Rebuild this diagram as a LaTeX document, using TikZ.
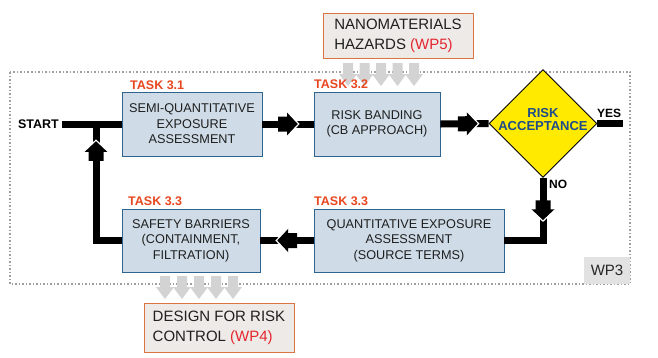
\documentclass[tikz,border=0pt]{standalone}
\usepackage{fontspec}
\setmainfont{Liberation Sans}
\usetikzlibrary{shapes.geometric,decorations.markings,calc}
\definecolor{boxfill}{HTML}{CFDCE8}
\definecolor{boxline}{HTML}{2E6490}
\definecolor{taskred}{HTML}{E8461E}
\definecolor{wpred}{HTML}{E3262E}
\definecolor{extfill}{HTML}{EEEAE7}
\definecolor{extline}{HTML}{DA7440}
\definecolor{diayellow}{HTML}{FFEA00}
\definecolor{dianavy}{HTML}{1D4B8C}
\definecolor{ghost}{HTML}{D3D3D3}
\definecolor{wpgray}{HTML}{E2E2E2}
\begin{document}
\begin{tikzpicture}[x=1pt,y=-1pt,
 taskbox/.style={draw=boxline, line width=0.9pt, fill=boxfill, align=center, inner sep=0pt, font=\fontsize{12.7}{15.5}\selectfont, text=black!88},
 extbox/.style={draw=extline, line width=0.9pt, fill=extfill, align=left, inner sep=0pt, font=\fontsize{15}{20}\selectfont, text=black!88},
 tasklabel/.style={anchor=base west, inner sep=0pt, text=taskred, font=\bfseries\fontsize{12.5}{14}\selectfont},
 flowlabel/.style={anchor=base west, inner sep=0pt, font=\bfseries\fontsize{12}{13}\selectfont},
 flow/.style={line width=7pt, black, line join=miter},
 midhead/.style={postaction={decorate}, decoration={markings, mark=at position #1 with {
   \fill[black] (-10pt,-7.5pt) -- (-1pt,-7.5pt) -- (-1pt,-12.5pt) -- (10pt,0pt) -- (-1pt,12.5pt) -- (-1pt,7.5pt) -- (-10pt,7.5pt) -- cycle;
   \draw[white, line width=1.2pt, line join=miter] (-1.6pt,-13.2pt) -- (10.8pt,0pt) -- (-1.6pt,13.2pt);}}},
 ghostarrow/.pic={\fill[ghost] (-5,0) -- (5,0) -- (5,11) -- (9,11) -- (0,23) -- (-9,11) -- (-5,11) -- cycle;}
]
\useasboundingbox (0,0) rectangle (658,357);

% WP3 frame
\draw[gray!75, line width=1.5pt, dash pattern=on 1.5pt off 2pt] (10,72) rectangle (630,284);
\node[fill=wpgray, minimum width=46pt, minimum height=27pt, inner sep=0pt, font=\fontsize{15}{17}\selectfont, text=black!85] (wp3) at (607,270.5) {WP3};

% ghost arrows (external links)
\foreach \x in {348,364.5,381,397.5,414} \pic at (\x,63) {ghostarrow};
\foreach \x in {165,182,199,216,233} \pic at (\x,276) {ghostarrow};

% boxes
\node[taskbox, minimum width=140pt, minimum height=64pt] (b1) at (192,124) {SEMI-QUANTITATIVE\\EXPOSURE\\ASSESSMENT};
\node[taskbox, minimum width=126pt, minimum height=64pt] (b2) at (377,124) {RISK BANDING\\(CB APPROACH)};
\node[taskbox, minimum width=190pt, minimum height=63pt] (b3) at (409,240.5) {QUANTITATIVE EXPOSURE\\ASSESSMENT\\(SOURCE TERMS)};
\node[taskbox, minimum width=138pt, minimum height=63pt] (b4) at (191,240.5) {SAFETY BARRIERS\\(CONTAINMENT,\\FILTRATION)};

\node[diamond, draw=black, line width=0.9pt, fill=diayellow, minimum width=108pt, minimum height=108pt, inner sep=0pt] (dia) at (543,123.5) {};
\node[align=center, inner sep=0pt, text=dianavy, font=\bfseries\fontsize{13}{12.5}\selectfont] (diatext) at ($(dia.center)+(0,-4)$) {RISK\\ACCEPTANCE};

\node[extbox, minimum width=150pt, minimum height=45pt] (haz) at (398,35.5) {NANOMATERIALS\\HAZARDS \textcolor{wpred}{(WP5)}};
\node[extbox, minimum width=150pt, minimum height=49pt] (des) at (219,327.5) {DESIGN FOR RISK\\CONTROL \textcolor{wpred}{(WP4)}};

% task labels
\node[tasklabel] (t31) at (130,89) {TASK 3.1};
\node[tasklabel] (t32) at (314,88) {TASK 3.2};
\node[tasklabel] (t33a) at (128,205) {TASK 3.3};
\node[tasklabel] (t33b) at (314,205) {TASK 3.3};

% start
\node[anchor=base east, inner sep=0pt, font=\bfseries\fontsize{12.5}{14}\selectfont] (start) at (59,128) {START};
\coordinate (startend) at (62,124);
\coordinate (join) at (96,124);
\coordinate (yesend) at (623,123.5);

% flows
\draw[flow] (startend) -- (b1.west);
\draw[flow, midhead=0.5] (b1.east) -- (b2.west);
\draw[flow, midhead=0.57] (b2.east) -- (dia.west);
\draw[flow] (dia.east) -- (yesend);
\draw[flow, midhead=0.32] (dia.south) |- (b3.east);
\draw[flow, midhead=0.5] (b3.west) -- (b4.east);
\draw[flow, midhead=0.81] (b4.west) -| (join);

\node[flowlabel] (yes) at (597,117) {YES};
\node[flowlabel] (no) at (549,188) {NO};
\end{tikzpicture}
\end{document}
